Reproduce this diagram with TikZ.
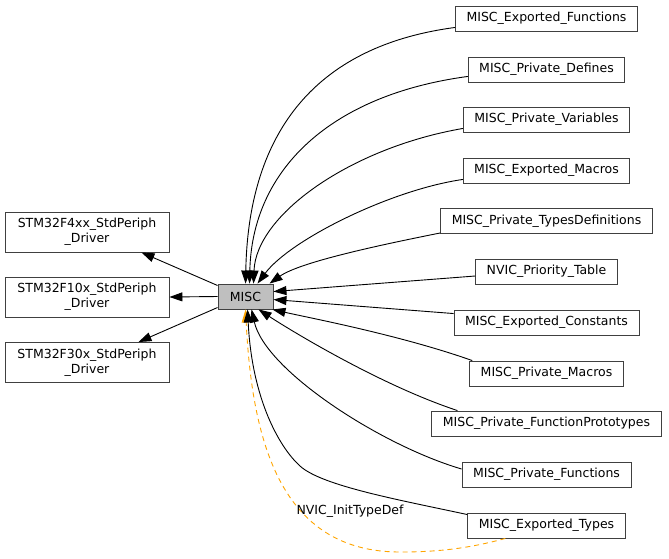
\documentclass[tikz,border=0pt]{standalone}
\usepackage{fontspec}
\setmainfont{DejaVu Sans}
\usetikzlibrary{arrows.meta,calc}
\definecolor{bord}{HTML}{404040}
\definecolor{miscfill}{HTML}{BFBFBF}
\definecolor{edgeorange}{HTML}{FFA500}
\begin{document}
\begin{tikzpicture}[x=1pt,y=-1pt,
  box/.style={draw=bord, line width=0.9pt, fill=white, minimum height=25pt,
    inner xsep=11pt, inner ysep=0pt, font=\fontsize{12.5}{15}\selectfont},
  lbox/.style={box, minimum width=164pt, minimum height=40pt, align=center},
  arr/.style={draw=black, line width=0.9pt, -{Triangle[length=13pt,width=9pt]}},
  oarr/.style={draw=edgeorange, line width=0.9pt, dash pattern=on 5pt off 4pt,
    -{Triangle[length=13pt,width=9pt]}},
  lbl/.style={font=\fontsize{12.5}{15}\selectfont, inner sep=0pt}
]
\useasboundingbox (0,0) rectangle (669,558);

% central node
\node[box, fill=miscfill, minimum width=55pt, inner xsep=0pt] (misc) at (245.5,296.5) {MISC};

% left column
\node[lbox] (f4)  at (87,232)   {STM32F4xx\_StdPeriph\\\_Driver};
\node[lbox] (f10) at (87,297)   {STM32F10x\_StdPeriph\\\_Driver};
\node[lbox] (f30) at (87,362.5) {STM32F30x\_StdPeriph\\\_Driver};

% right column
\node[box] (ef)  at (546.5,18.5)  {MISC\_Exported\_Functions};
\node[box] (pd)  at (546.5,69.5)  {MISC\_Private\_Defines};
\node[box] (pv)  at (546.5,119.5) {MISC\_Private\_Variables};
\node[box] (em)  at (546.5,170.5) {MISC\_Exported\_Macros};
\node[box] (td)  at (546.5,221)   {MISC\_Private\_TypesDefinitions};
\node[box] (npt) at (546.5,271.5) {NVIC\_Priority\_Table};
\node[box] (ec)  at (546.5,322.5) {MISC\_Exported\_Constants};
\node[box] (pm)  at (546.5,373.5) {MISC\_Private\_Macros};
\node[box] (pfp) at (546.5,423.5) {MISC\_Private\_FunctionPrototypes};
\node[box] (pf)  at (546.5,474.5) {MISC\_Private\_Functions};
\node[box] (et)  at (546.5,525.5) {MISC\_Exported\_Types};

% orange dashed edge (drawn first, under the black edges)
\draw[oarr] ($(et.south west)+(38,0)$) .. controls (470,548) and (440,552) .. (400,552)
   .. controls (280,552) and (252,440) .. ($(misc.south west)+(28,0)$);
\node[lbl] (nvlbl) at (350,511) {NVIC\_InitTypeDef};

% left edges
\draw[arr] ($(misc.west)+(0,-11)$) -- ($(f4.south east)+(-28,0)$);
\draw[arr] (misc.west) -- (f10.east);
\draw[arr] ($(misc.west)+(0,11)$) -- ($(f30.north east)+(-31,0)$);

% right edges into MISC
\draw[arr] ($(ef.south west)+(0,-4)$) .. controls (300,48) and (248,150) .. ($(misc.north west)+(28,0)$);
\draw[arr] ($(pd.south west)+(0,-6)$) .. controls (330,95) and (252,170) .. ($(misc.north west)+(32,0)$);
\draw[arr] ($(pv.south west)+(0,-4)$) .. controls (350,148) and (256,215) .. ($(misc.north west)+(36,0)$);
\draw[arr] ($(em.south west)+(0,-4)$) .. controls (390,190) and (290,240) .. ($(misc.north west)+(40,0)$);
\draw[arr] ($(td.south west)+(0,-1)$) .. controls (380,245) and (300,262) .. ($(misc.north west)+(52,0)$);
\draw[arr] ($(npt.west)+(0,4.5)$) -- ($(misc.north east)+(0,8)$);
\draw[arr] ($(ec.north west)+(0,4)$) -- ($(misc.north east)+(0,16)$);
\draw[arr] ($(pm.north west)+(3,0)$) .. controls (400,335) and (310,318) .. ($(misc.south east)+(-1,0)$);
\draw[arr] ($(pfp.north west)+(26,0)$) .. controls (380,385) and (290,330) .. ($(misc.south west)+(41,0)$);
\draw[arr] ($(pf.west)+(0,-5.5)$) .. controls (380,445) and (265,370) .. ($(misc.south west)+(34,0)$);
\draw[arr] ($(et.north west)+(0,2)$) .. controls (400,500) and (322,486) .. (300,466)
   .. controls (280,448) and (252,400) .. ($(misc.south west)+(30,0)$);
\end{tikzpicture}
\end{document}
